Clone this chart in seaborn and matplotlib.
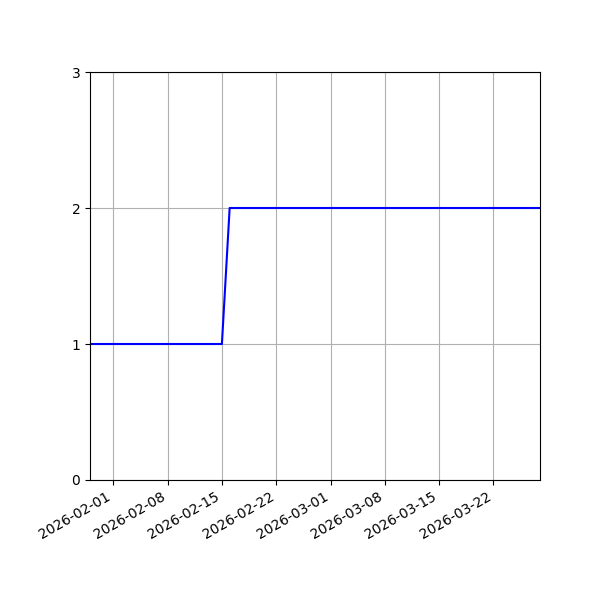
import pandas as pd
import matplotlib
matplotlib.use("Agg")
import matplotlib.pyplot as plt
import matplotlib.dates as mdates
import seaborn as sns

# Breakpoints of the step series
dates = ["2026-01-29", "2026-02-15", "2026-02-16", "2026-03-28"]
values = [1, 1, 2, 2]

df = pd.DataFrame({"date": pd.to_datetime(dates), "value": values})

fig, ax = plt.subplots(figsize=(6, 6), dpi=100)
sns.lineplot(data=df, x="date", y="value", color="blue", ax=ax)

ax.set_xlim(df["date"].min(), df["date"].max())
ax.set_ylim(0, 3)
ax.set_yticks([0, 1, 2, 3])
ax.xaxis.set_major_locator(mdates.WeekdayLocator(byweekday=mdates.SU))
ax.xaxis.set_major_formatter(mdates.DateFormatter("%Y-%m-%d"))
ax.set_xlabel("")
ax.set_ylabel("")
ax.grid(True)
fig.autofmt_xdate()
fig.subplots_adjust(left=0.15, right=0.9, top=0.88, bottom=0.2)

fig.savefig("out.png", dpi=100)
